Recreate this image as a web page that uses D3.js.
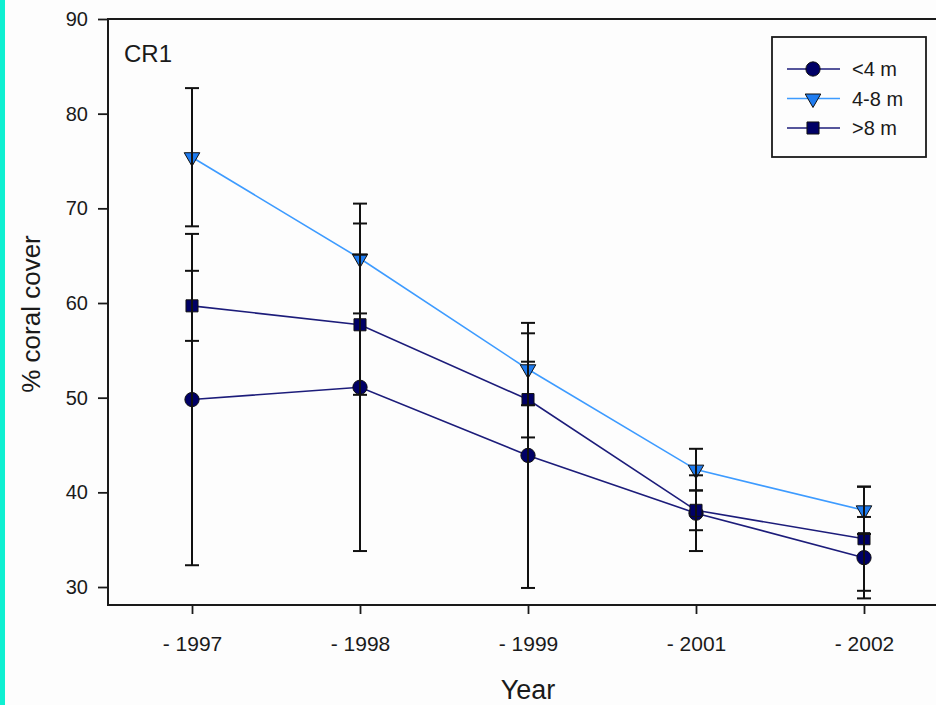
<!DOCTYPE html>
<html>
<head>
<meta charset="utf-8">
<script src="https://cdn.jsdelivr.net/npm/d3@7"></script>
<style>
  body { margin: 0; background: #fdfdfd; }
  svg { display: block; font-family: "Liberation Sans", Arial, sans-serif; }
</style>
</head>
<body>
<svg id="chart" width="936" height="705"></svg>
<script>
//data
var years = ["1997", "1998", "1999", "2001", "2002"];
var yTicks = [30, 40, 50, 60, 70, 80, 90];
var seriesNames = ["<4 m", "4-8 m", ">8 m"];
var shallow = [49.8, 51.1, 43.9, 37.8, 33.1];
var shallowErr = [17.5, 17.3, 14.0, 4.0, 4.3];
var mid = [75.4, 64.7, 53.0, 42.4, 38.1];
var midErr = [7.3, 5.8, 3.8, 2.2, 2.5];
var deep = [59.7, 57.7, 49.8, 38.1, 35.1];
var deepErr = [3.7, 7.4, 4.0, 2.1, 5.5];

var series = [
    { name: seriesNames[0], values: shallow, err: shallowErr, line: "#1c1c7a", fill: "#000066", symbol: d3.symbolCircle, size: 160, rot: 0 },
    { name: seriesNames[1], values: mid, err: midErr, line: "#3d9bff", fill: "#1f7cf0", symbol: d3.symbolTriangle, size: 105, rot: 180 },
    { name: seriesNames[2], values: deep, err: deepErr, line: "#1c1c7a", fill: "#000066", symbol: d3.symbolSquare, size: 145, rot: 0 }
];

var svg = d3.select("#chart");

//left cyan strip
svg.append("rect").attr("x", 0).attr("y", 0).attr("width", 5).attr("height", 705).attr("fill", "#0ff0d2");

//plot box ("top" is taken by window.top, so prefix everything)
var plotLeft = 108, plotTop = 19, plotBottom = 605, plotRight = 948;

var x = d3.scalePoint().domain(years).range([plotLeft, plotRight]).padding(0.5);
var y = d3.scaleLinear().domain([28.1, 90]).range([plotBottom, plotTop]);

//frame
svg.append("path")
    .attr("d", "M" + plotRight + "," + plotTop + "H" + plotLeft + "V" + plotBottom + "H" + plotRight)
    .attr("fill", "none").attr("stroke", "#1a1a1a").attr("stroke-width", 2);

//y axis
var yAxis = svg.append("g")
    .attr("transform", "translate(" + plotLeft + ",0)")
    .call(d3.axisLeft(y).tickValues(yTicks).tickSize(10).tickPadding(10));
yAxis.select(".domain").remove();
yAxis.selectAll("line").attr("stroke", "#1a1a1a").attr("stroke-width", 1.8);
yAxis.selectAll("text").attr("font-size", 20).attr("fill", "#1a1a1a").attr("font-family", null);

//x axis
var xAxis = svg.append("g")
    .attr("transform", "translate(0," + plotBottom + ")")
    .call(d3.axisBottom(x).tickSize(9).tickPadding(22).tickFormat(function (d) { return "- " + d; }));
xAxis.select(".domain").remove();
xAxis.selectAll("line").attr("stroke", "#1a1a1a").attr("stroke-width", 1.8);
xAxis.selectAll("text").attr("font-size", 21).attr("fill", "#1a1a1a").attr("font-family", null);

//axis titles
svg.append("text").attr("x", 528).attr("y", 699).attr("text-anchor", "middle")
    .attr("font-size", 27).attr("fill", "#1a1a1a").text("Year");
svg.append("text").attr("transform", "translate(40,314) rotate(-90)").attr("text-anchor", "middle")
    .attr("font-size", 26).attr("fill", "#1a1a1a").text("% coral cover");
svg.append("text").attr("x", 124).attr("y", 62)
    .attr("font-size", 24).attr("fill", "#1a1a1a").text("CR1");

//lines
var line = d3.line().x(function (d, i) { return x(years[i]); }).y(function (d) { return y(d); });
series.forEach(function (s) {
    svg.append("path").datum(s.values)
        .attr("d", line).attr("fill", "none")
        .attr("stroke", s.line).attr("stroke-width", 1.6);
});

//markers
series.forEach(function (s) {
    svg.append("g").selectAll("path").data(s.values).join("path")
        .attr("d", d3.symbol().type(s.symbol).size(s.size))
        .attr("transform", function (d, i) { return "translate(" + x(years[i]) + "," + y(d) + ") rotate(" + s.rot + ")"; })
        .attr("fill", s.fill).attr("stroke", "#111").attr("stroke-width", 1);
});

//error bars on top
var capW = 7;
series.forEach(function (s) {
    var g = svg.append("g").attr("stroke", "#111").attr("stroke-width", 2);
    s.values.forEach(function (v, i) {
        var cx = x(years[i]), y1 = y(v + s.err[i]), y2 = y(v - s.err[i]);
        g.append("line").attr("x1", cx).attr("x2", cx).attr("y1", y1).attr("y2", y2);
        g.append("line").attr("x1", cx - capW).attr("x2", cx + capW).attr("y1", y1).attr("y2", y1);
        g.append("line").attr("x1", cx - capW).attr("x2", cx + capW).attr("y1", y2).attr("y2", y2);
    });
});

//legend
var legend = svg.append("g");
legend.append("rect").attr("x", 772).attr("y", 37).attr("width", 154).attr("height", 120)
    .attr("fill", "#fdfdfd").attr("stroke", "#1a1a1a").attr("stroke-width", 1.8);
var legendY = d3.scalePoint().domain(seriesNames).range([69, 128]);
series.forEach(function (s) {
    var ly = legendY(s.name);
    legend.append("line").attr("x1", 787).attr("x2", 840).attr("y1", ly).attr("y2", ly)
        .attr("stroke", s.line).attr("stroke-width", 1.6);
    legend.append("path").attr("d", d3.symbol().type(s.symbol).size(s.size))
        .attr("transform", "translate(813," + ly + ") rotate(" + s.rot + ")")
        .attr("fill", s.fill).attr("stroke", "#111").attr("stroke-width", 1);
    legend.append("text").attr("x", 852).attr("y", ly + 7)
        .attr("font-size", 20).attr("fill", "#1a1a1a").text(s.name);
});
</script>
</body>
</html>
